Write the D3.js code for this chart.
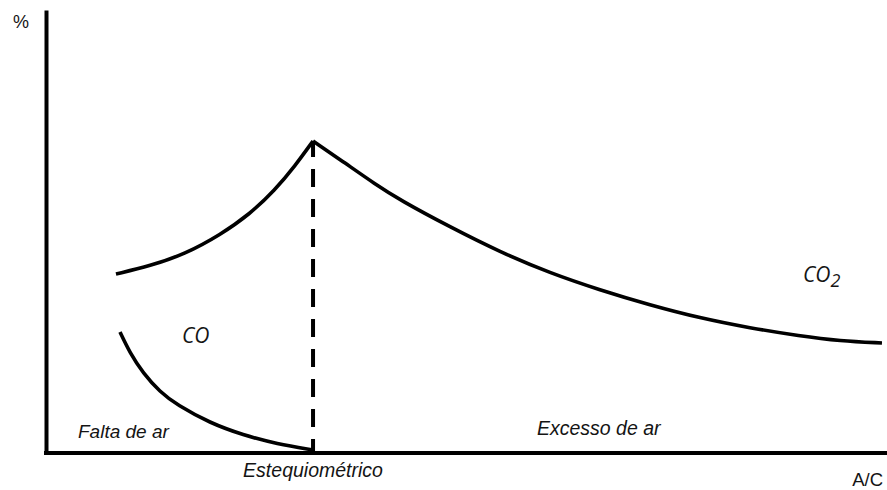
<!DOCTYPE html>
<html>
<head>
<meta charset="utf-8">
<script src="https://cdn.jsdelivr.net/npm/d3@7"></script>
<style>
  html, body { margin: 0; padding: 0; background: #fff; }
  svg { display: block; }
  .lbl { font-family: "Liberation Sans", Arial, sans-serif; fill: #141414; }
  .chem { font-family: "Open Sans", sans-serif; font-style: italic; fill: #141414; }
</style>
</head>
<body>
<svg id="chart" width="887" height="490"></svg>
<script>
// ---- data (arbitrary units: A/C on x, % on y) ----
const stoichAC = 31.79;
const peakPct = 70.43;
const co2RichAC  = [8.33, 12.38, 16.55, 20.71, 24.29, 27.26, 29.64, 31.79];
const co2RichPct = [40.41, 42.21, 44.92, 49.21, 53.95, 59.37, 64.79, 70.43];
const co2LeanAC  = [31.79, 35.60, 39.17, 42.14, 48.10, 54.05, 60.00, 65.95, 71.90, 77.86, 83.81, 89.76, 94.52, 99.52];
const co2LeanPct = [70.43, 65.46, 60.72, 57.11, 51.02, 45.37, 40.63, 36.79, 33.41, 30.47, 28.22, 26.41, 25.28, 24.83];
const coAC  = [8.81, 10.0, 11.55, 13.57, 15.60, 19.52, 23.45, 27.50, 31.79];
const coPct = [27.31, 22.57, 18.06, 13.77, 10.84, 6.77, 4.06, 2.03, 0.68];
const axisLabels = { y: "%", x: "A/C" };
const regionLabels = ["Falta de ar", "Estequiométrico", "Excesso de ar"];
const seriesLabels = ["CO", "CO", "2"];

// ---- layout ----
const svg = d3.select("#chart");
const x = d3.scaleLinear().domain([0, 100]).range([46, 886]);
const y = d3.scaleLinear().domain([0, 100]).range([453, 10]);

// axes (no ticks)
svg.append("g").attr("transform", `translate(0,${y(0)})`)
  .call(d3.axisBottom(x).tickValues([]).tickSizeOuter(0))
  .call(g => g.select(".domain").attr("stroke", "#000").attr("stroke-width", 4)
      .attr("d", `M${x(0) - 2},0H887`));
svg.append("g").attr("transform", `translate(${x(0)},0)`)
  .call(d3.axisLeft(y).tickValues([]).tickSizeOuter(0))
  .call(g => g.select(".domain").attr("stroke", "#000").attr("stroke-width", 4));

const line = d3.line().x(d => x(d[0])).y(d => y(d[1])).curve(d3.curveBasis);
const zip = (a, b) => a.map((v, i) => [v, b[i]]);

// stoichiometric dashed line
svg.append("line")
  .attr("x1", x(stoichAC)).attr("x2", x(stoichAC))
  .attr("y1", y(peakPct)).attr("y2", y(0))
  .attr("stroke", "#000").attr("stroke-width", 4)
  .attr("stroke-dasharray", "18,12").attr("stroke-dashoffset", 2);

[zip(co2RichAC, co2RichPct), zip(co2LeanAC, co2LeanPct), zip(coAC, coPct)].forEach(pts => {
  svg.append("path").attr("d", line(pts))
    .attr("fill", "none").attr("stroke", "#000").attr("stroke-width", 3.6)
    .attr("stroke-linejoin", "miter");
});

// axis labels
svg.append("text").attr("class", "lbl").attr("x", 13).attr("y", 28)
  .attr("font-size", 18).text(axisLabels.y);
svg.append("text").attr("class", "lbl").attr("x", 883).attr("y", 486)
  .attr("text-anchor", "end").attr("font-size", 18.5).text(axisLabels.x);

// region labels
svg.append("text").attr("class", "lbl").attr("x", 78).attr("y", 438)
  .attr("font-size", 19).attr("font-style", "italic").text(regionLabels[0]);
svg.append("text").attr("class", "lbl").attr("x", x(stoichAC)).attr("y", 477)
  .attr("text-anchor", "middle").attr("font-size", 19.5).attr("font-style", "italic").text(regionLabels[1]);
svg.append("text").attr("class", "lbl").attr("x", 537).attr("y", 435)
  .attr("font-size", 19.5).attr("font-style", "italic").text(regionLabels[2]);

// series labels
svg.append("text").attr("class", "chem").attr("x", 182).attr("y", 343)
  .attr("font-size", 21).text(seriesLabels[0]);
const t = svg.append("text").attr("class", "chem").attr("x", 803).attr("y", 282)
  .attr("font-size", 21).text(seriesLabels[1]);
t.append("tspan").attr("dy", 5).attr("font-size", 18).text(seriesLabels[2]);
</script>
</body>
</html>
